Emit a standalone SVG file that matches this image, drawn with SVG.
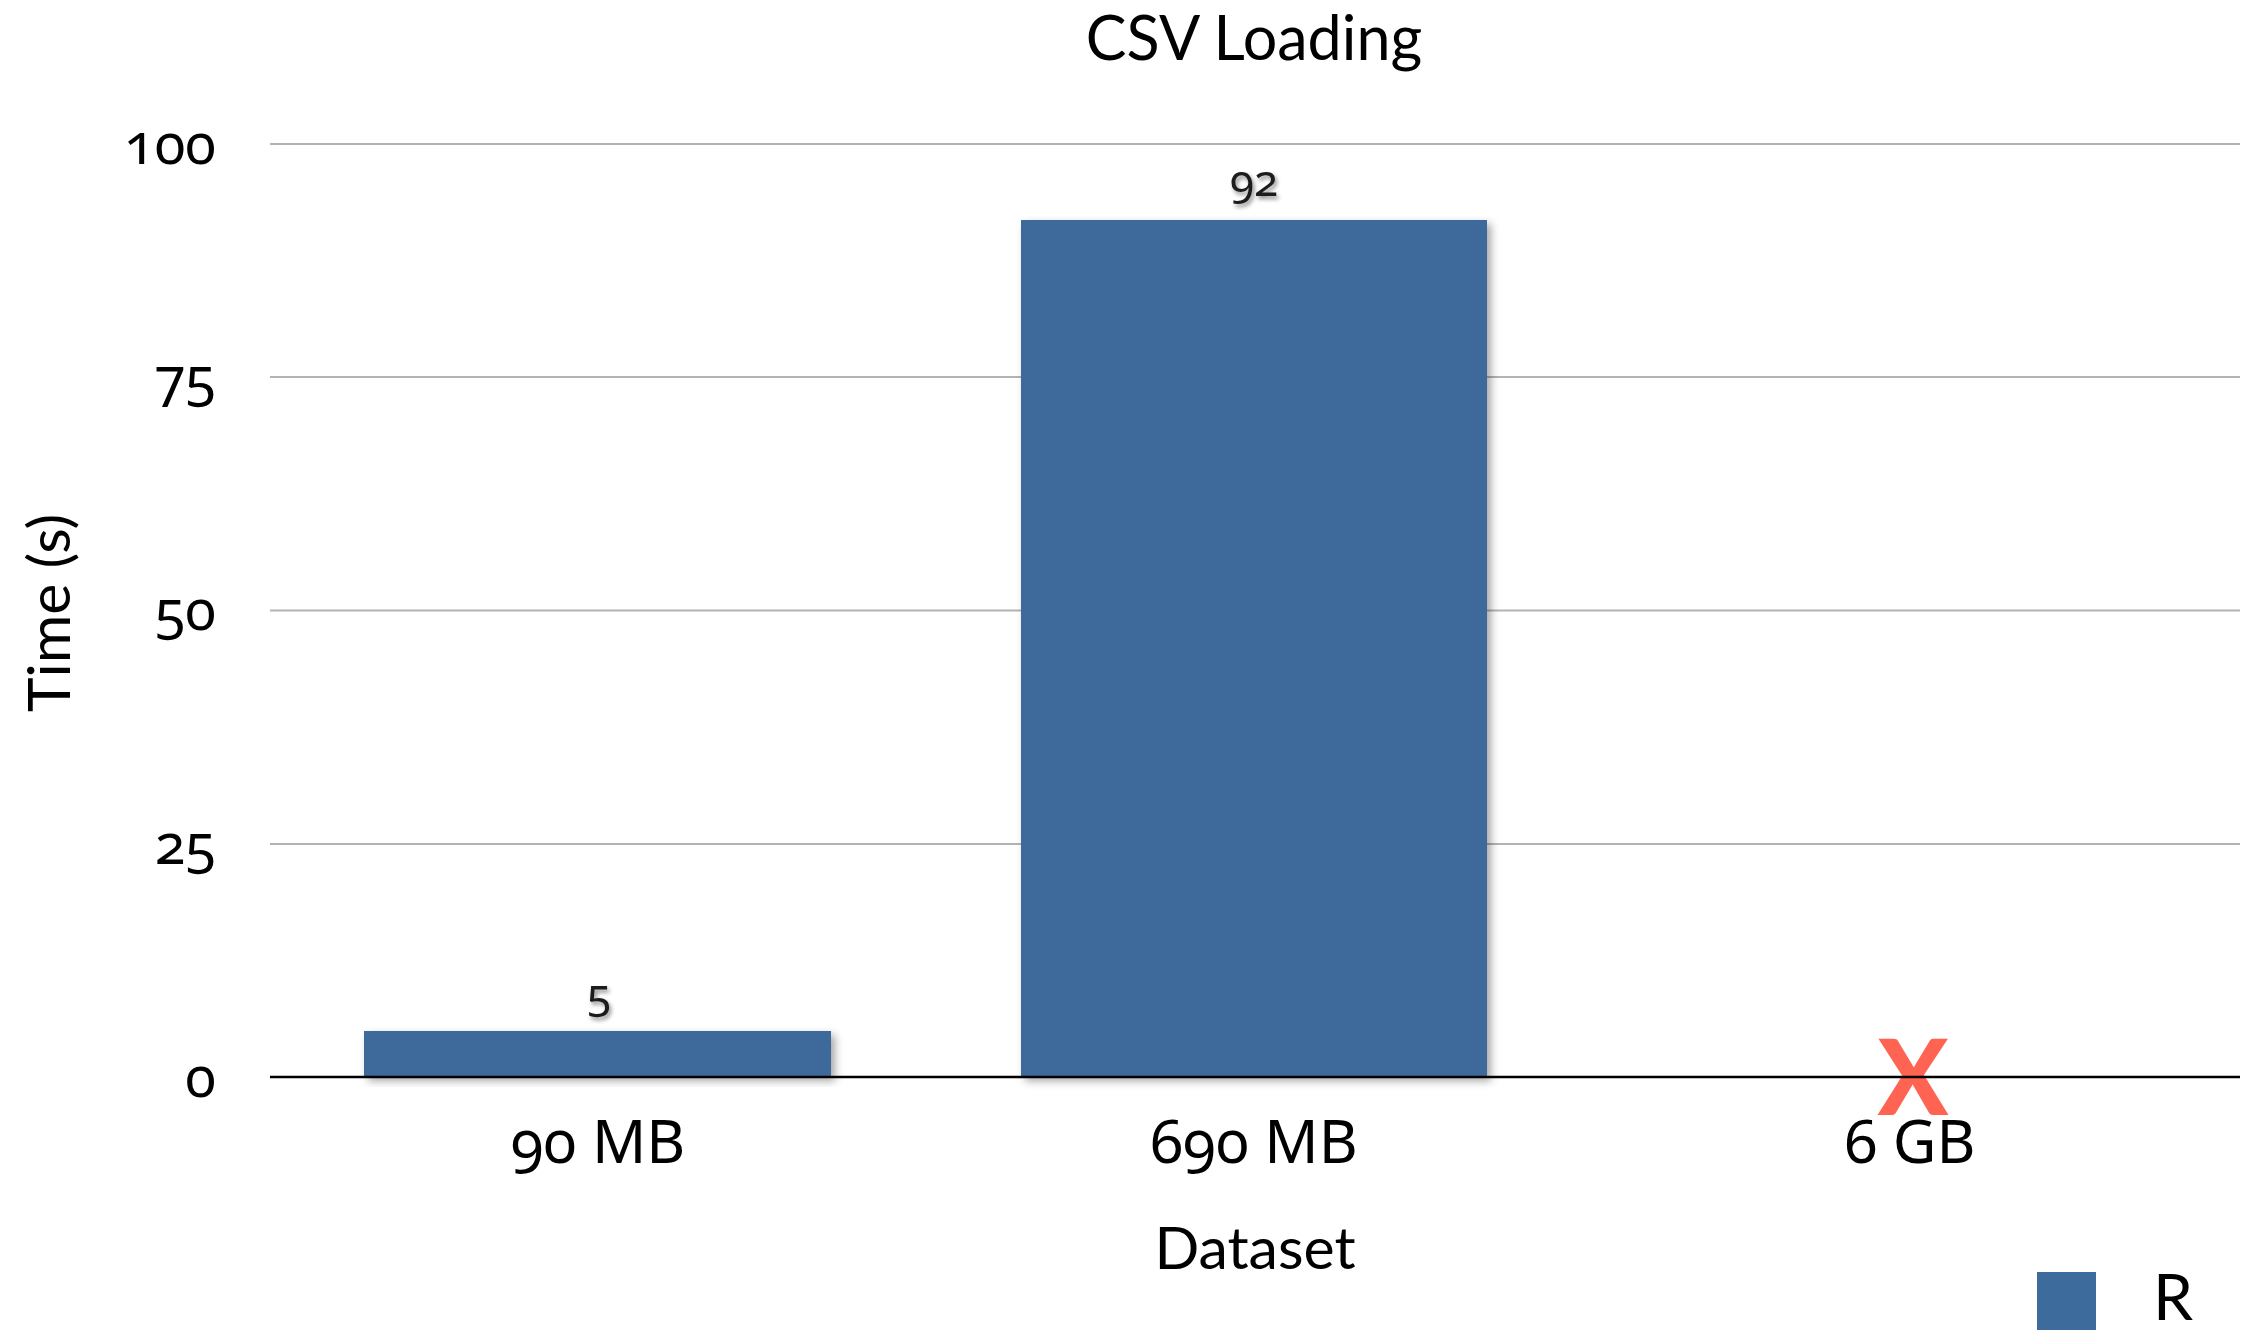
<svg xmlns="http://www.w3.org/2000/svg" width="2248" height="1330" viewBox="0 0 2248 1330">
  <defs>
    <filter id="barShadow" x="-10%" y="-10%" width="130%" height="130%">
      <feDropShadow dx="4" dy="4" stdDeviation="4" flood-color="#000" flood-opacity="0.35"/>
    </filter>
    <filter id="labelShadow" x="-20%" y="-20%" width="150%" height="160%">
      <feDropShadow dx="2" dy="3" stdDeviation="2" flood-color="#000" flood-opacity="0.45"/>
    </filter>
  </defs>
  <style>
    text { font-family: "Lato", "Noto Sans", sans-serif; fill: #000; }
    .num { font-family: "Noto Sans", "Lato", sans-serif; font-variant-numeric: oldstyle-nums; font-feature-settings: "onum" 1; }
    .title { font-size: 61px; text-anchor: middle; }
    .tick { font-size: 56px; text-anchor: end; }
    .cat { font-size: 60px; text-anchor: middle; }
    .axis-title { font-size: 59px; text-anchor: middle; }
    .val { font-size: 44px; text-anchor: middle; fill: #1a1a1a; filter: url(#labelShadow); }
    .grid { stroke: #b3b3b3; stroke-width: 2; }
    .baseline { stroke: #000; stroke-width: 2.5; }
    .bar { fill: #3d6b9b; filter: url(#barShadow); }
    .fail { font-family: "Lato", sans-serif; font-weight: 900; font-size: 104px; fill: #ff6351; text-anchor: middle; }
  </style>

  <rect width="2248" height="1330" fill="#fff"/>

  <!-- title -->
  <text class="title" x="1254" y="60">CSV Loading</text>

  <!-- horizontal gridlines and value axis -->
  <g id="grid">
    <line class="grid" x1="270" y1="144" x2="2240" y2="144"/>
    <line class="grid" x1="270" y1="377" x2="2240" y2="377"/>
    <line class="grid" x1="270" y1="610.5" x2="2240" y2="610.5"/>
    <line class="grid" x1="270" y1="844" x2="2240" y2="844"/>
  </g>
  <g id="y-ticks">
    <text class="tick num" x="216" y="164">100</text>
    <text class="tick num" x="216" y="397">75</text>
    <text class="tick num" x="216" y="630">50</text>
    <text class="tick num" x="216" y="864">25</text>
    <text class="tick num" x="216" y="1097">0</text>
  </g>
  <text class="axis-title" transform="translate(70,613) rotate(-90)">Time (s)</text>

  <!-- bars -->
  <g id="bar-90mb">
    <rect class="bar" x="364" y="1031" width="467" height="46"/>
    <text class="val num" x="599" y="1010">5</text>
  </g>
  <g id="bar-690mb">
    <rect class="bar" x="1021" y="220" width="466" height="857"/>
    <text class="val num" x="1254" y="196">92</text>
  </g>
  <g id="bar-6gb">
    <text class="fail" x="1913" y="1115">X</text>
  </g>

  <!-- category axis -->
  <line class="baseline" x1="270" y1="1077" x2="2240" y2="1077"/>
  <g id="x-labels">
    <text class="cat num" x="598" y="1163">90 MB</text>
    <text class="cat num" x="1254" y="1163">690 MB</text>
    <text class="cat num" x="1910" y="1163">6 GB</text>
  </g>
  <text class="axis-title" x="1255" y="1269">Dataset</text>

  <!-- legend -->
  <g id="legend">
    <rect x="2037" y="1272" width="59" height="60" fill="#3d6b9b"/>
    <text x="2153" y="1320" font-size="64">R</text>
  </g>
</svg>
